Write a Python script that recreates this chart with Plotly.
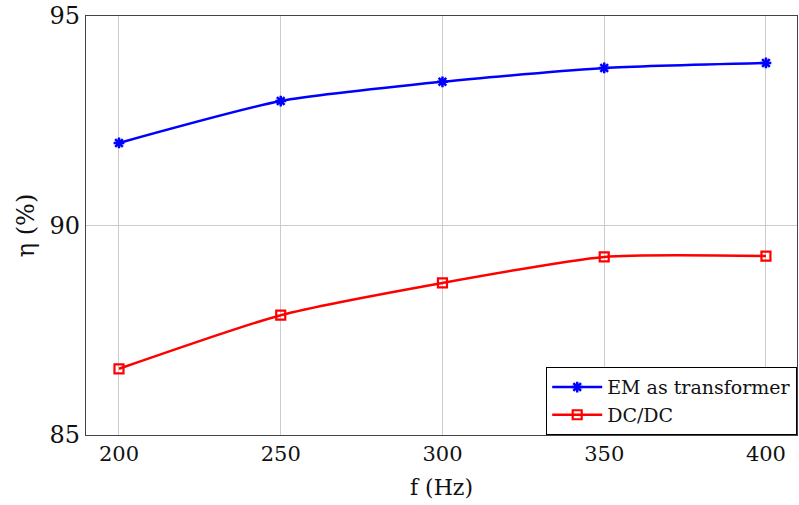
import plotly.graph_objects as go

freq = [200, 250, 300, 350, 400]
em_transformer = [91.97, 92.97, 93.43, 93.76, 93.88]
dc_dc = [86.58, 87.86, 88.63, 89.25, 89.27]

x_ticks = [200, 250, 300, 350, 400]
y_ticks = [85, 90, 95]

font_family = "DejaVu Serif"

fig = go.Figure()
fig.add_trace(go.Scatter(
    x=freq, y=em_transformer, mode="lines+markers", name="EM as transformer",
    line=dict(color="#0000ff", width=2.5, shape="spline", smoothing=0.6),
    marker=dict(symbol="asterisk-open", size=9, line=dict(color="#0000ff", width=2.5)),
))
fig.add_trace(go.Scatter(
    x=freq, y=dc_dc, mode="lines+markers", name="DC/DC",
    line=dict(color="#ff0000", width=2.5, shape="spline", smoothing=0.6),
    marker=dict(symbol="square-open", size=9, line=dict(color="#ff0000", width=2.2)),
))

axis_common = dict(
    showline=True, linecolor="#444444", linewidth=1.2, mirror=True,
    showgrid=True, gridcolor="#cccccc", gridwidth=1,
    zeroline=False, ticks="",
)

fig.update_layout(
    width=799, height=505,
    margin=dict(l=86, r=2, t=16, b=70),
    paper_bgcolor="white", plot_bgcolor="white",
    font=dict(family=font_family, color="#111111"),
    xaxis=dict(range=[189.8, 409.6], tickvals=x_ticks, tickfont=dict(size=21),
               title=dict(text="f (Hz)", font=dict(size=22), standoff=14), **axis_common),
    yaxis=dict(range=[85, 95], tickvals=y_ticks, tickfont=dict(size=24),
               title=dict(text="η (%)", font=dict(size=24), standoff=8), **axis_common),
    legend=dict(x=1, y=0, xanchor="right", yanchor="bottom",
                bordercolor="#000000", borderwidth=1.2, bgcolor="white",
                font=dict(size=19), tracegroupgap=0, itemwidth=50),
    showlegend=True,
)

fig.write_html("out.html")
